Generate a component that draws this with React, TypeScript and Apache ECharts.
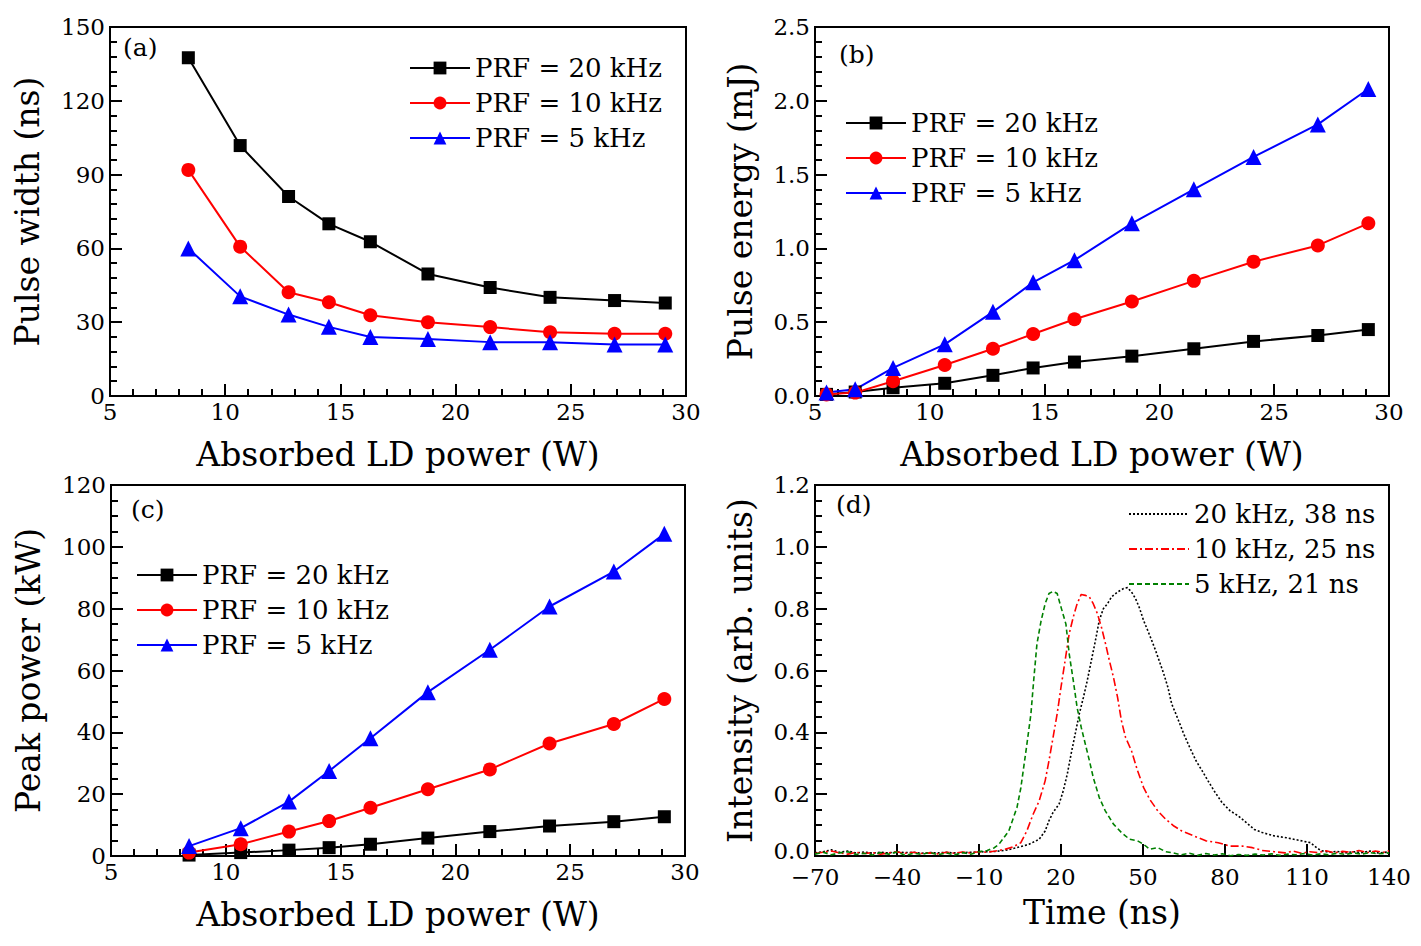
import React, { useEffect, useRef } from "react";
import * as echarts from "echarts";

// ---------- data ----------
const powerX = [8.4, 10.65, 12.75, 14.5, 16.3, 18.8, 21.5, 24.1, 26.9, 29.1];
const powerXb = [5.5, 6.75, 8.4, 10.65, 12.75, 14.5, 16.3, 18.8, 21.5, 24.1, 26.9, 29.1];

const widthPRF20 = [137.5, 101.8, 81.1, 70.0, 62.7, 49.6, 44.1, 40.1, 38.8, 37.8];
const widthPRF10 = [91.9, 60.7, 42.2, 38.1, 32.8, 30.0, 28.0, 25.9, 25.3, 25.3];
const widthPRF5 = [60.0, 40.5, 33.1, 28.1, 24.0, 23.2, 21.9, 21.9, 20.9, 20.9];

const energyPRF20 = [0.011, 0.027, 0.056, 0.086, 0.14, 0.19, 0.23, 0.27, 0.32, 0.37, 0.41, 0.45];
const energyPRF10 = [0.011, 0.023, 0.10, 0.21, 0.32, 0.42, 0.52, 0.64, 0.78, 0.91, 1.02, 1.17];
const energyPRF5 = [0.023, 0.045, 0.19, 0.35, 0.57, 0.77, 0.92, 1.17, 1.40, 1.62, 1.84, 2.08];

const peakPRF20 = [0.3, 1.1, 1.9, 2.7, 3.8, 5.8, 7.9, 9.7, 11.1, 12.7];
const peakPRF10 = [1.1, 3.8, 7.9, 11.3, 15.6, 21.6, 28.0, 36.4, 42.7, 50.8];
const peakPRF5 = [3.2, 9.0, 17.6, 27.5, 38.1, 53.0, 66.7, 80.7, 92.0, 104.2];

const prfNames = ["PRF = 20 kHz", "PRF = 10 kHz", "PRF = 5 kHz"];
const pulseNames = ["20 kHz, 38 ns", "10 kHz, 25 ns", "5 kHz, 21 ns"];

const pulse20kHz: [number, number][] = [
  [-70, 0.010], [-67, 0.014], [-64, 0.020], [-61, 0.012], [-58, 0.016], [-55, 0.010], [-52, 0.013],
  [-49, 0.009], [-46, 0.012], [-43, 0.010], [-40, 0.013], [-37, 0.011], [-34, 0.012], [-31, 0.009],
  [-28, 0.011], [-25, 0.010], [-22, 0.012], [-19, 0.010], [-16, 0.011], [-13, 0.012], [-10, 0.013],
  [-7, 0.014], [-4, 0.015], [-0.5, 0.018], [3.9, 0.027], [8.3, 0.038], [12, 0.054], [14.2, 0.081],
  [15.6, 0.114], [17.1, 0.141], [19.3, 0.168], [20.8, 0.21], [22.3, 0.265], [23.7, 0.33], [25.2, 0.395],
  [26.7, 0.46], [28.2, 0.513], [29.6, 0.567], [31.1, 0.632], [32.6, 0.697], [34, 0.762], [35.5, 0.80],
  [37, 0.816], [38.5, 0.838], [40.7, 0.854], [42.9, 0.865], [44.3, 0.868], [45.8, 0.854], [47.3, 0.832],
  [48.8, 0.80], [50.2, 0.762], [51.7, 0.73], [53.2, 0.697], [54.6, 0.665], [56.1, 0.627], [57.6, 0.589],
  [59.1, 0.546], [60.5, 0.492], [62, 0.46], [63.5, 0.427], [64.9, 0.395], [67.1, 0.351], [69.4, 0.308],
  [71.6, 0.276], [73.8, 0.243], [76, 0.211], [78.9, 0.173], [81.9, 0.146], [84.8, 0.13], [87.8, 0.108],
  [90.7, 0.086], [93.6, 0.076], [98, 0.065], [102.5, 0.059], [106.9, 0.051], [111.3, 0.043], [113.5, 0.027],
  [115, 0.018], [118, 0.012], [121, 0.015], [124, 0.010], [127, 0.014], [130, 0.011], [133, 0.016],
  [136, 0.010], [140, 0.013],
];

const pulse10kHz: [number, number][] = [
  [-70, 0.008], [-67, 0.012], [-64, 0.016], [-61, 0.010], [-58, 0.006], [-55, 0.012], [-52, 0.008],
  [-49, 0.011], [-46, 0.006], [-43, 0.010], [-40, 0.013], [-37, 0.009], [-34, 0.012], [-31, 0.008],
  [-28, 0.010], [-25, 0.007], [-22, 0.012], [-19, 0.009], [-16, 0.013], [-13, 0.010], [-10, 0.014],
  [-7, 0.012], [-4, 0.016], [-0.5, 0.022], [2.4, 0.029], [5.3, 0.043], [7.5, 0.081], [9.8, 0.135],
  [12, 0.178], [14.2, 0.243], [15.6, 0.308], [17.1, 0.384], [18.6, 0.46], [20, 0.546], [21.5, 0.632],
  [23, 0.719], [24.5, 0.773], [25.9, 0.816], [27.4, 0.846], [28.9, 0.843], [30.4, 0.838], [31.8, 0.816],
  [33.3, 0.784], [34.8, 0.74], [36.3, 0.686], [37.7, 0.632], [39.2, 0.578], [40.7, 0.513], [42.1, 0.438],
  [43.6, 0.384], [45.8, 0.34], [48, 0.276], [50.2, 0.222], [52.4, 0.184], [55.4, 0.146], [58.3, 0.119],
  [61.3, 0.097], [64.2, 0.081], [68.6, 0.065], [73, 0.049], [77.5, 0.043], [81.9, 0.032], [86.3, 0.032],
  [90, 0.027], [93.6, 0.018], [98, 0.014], [102, 0.010], [105, 0.016], [108, 0.009], [111, 0.014],
  [114, 0.011], [117, 0.017], [120, 0.010], [123, 0.015], [126, 0.012], [129, 0.018], [132, 0.011],
  [135, 0.016], [138, 0.012], [140, 0.017],
];

const pulse5kHz: [number, number][] = [
  [-70, 0.006], [-67, 0.012], [-64, 0.004], [-61, 0.010], [-58, 0.014], [-55, 0.005], [-52, 0.009],
  [-49, 0.003], [-46, 0.011], [-43, 0.006], [-40, 0.013], [-37, 0.002], [-34, 0.009], [-31, 0.005],
  [-28, 0.012], [-25, 0.004], [-22, 0.010], [-19, 0.003], [-16, 0.011], [-13, 0.006], [-10, 0.014],
  [-7, 0.018], [-4.5, 0.026], [-2.7, 0.038], [0.9, 0.081], [3.9, 0.157], [5.3, 0.22], [7.5, 0.36],
  [9, 0.46], [10, 0.567], [11.2, 0.686], [12.7, 0.76], [14.2, 0.816], [15.6, 0.849], [17.1, 0.856],
  [18.6, 0.849], [20, 0.805], [21.8, 0.75], [23, 0.654], [24.5, 0.567], [25.9, 0.48], [27.4, 0.416],
  [28.9, 0.362], [30.4, 0.308], [31.8, 0.254], [34, 0.189], [36.2, 0.146], [39.2, 0.103], [42.1, 0.076],
  [45.1, 0.054], [48, 0.049], [50.2, 0.038], [52.4, 0.022], [55.4, 0.027], [58.3, 0.014], [61, 0.010],
  [64, 0.004], [67, 0.009], [70, 0.002], [73, 0.008], [76, 0.003], [79, 0.007], [82, 0.001], [85, 0.005],
  [88, 0.002], [91, 0.006], [94, 0.003], [97, 0.007], [100, 0.002], [103, 0.006], [106, 0.004],
  [109, 0.008], [112, 0.003], [115, 0.007], [118, 0.004], [121, 0.009], [124, 0.005], [127, 0.010],
  [130, 0.006], [133, 0.011], [136, 0.007], [140, 0.010],
];

const timeTicks = [-70, -40, -10, 20, 50, 80, 110, 140];

// ---------- chart ----------
const FONT = "DejaVu Serif";
const BLACK = "#000000";
const RED = "#ff0000";
const BLUE = "#0000ff";
const GREEN = "#008000";

const fmtMinus = (v: number) => (v < 0 ? "\u2212" + Math.abs(v) : String(v));

function makeAxis(gridIndex: number, opts: any) {
  return {
    type: "value",
    gridIndex,
    nameLocation: "middle",
    axisLine: { show: true, onZero: false, lineStyle: { color: BLACK, width: 2 } },
    axisTick: { show: true, inside: true, length: 12, lineStyle: { color: BLACK, width: 2 } },
    minorTick: { show: true, splitNumber: opts.minor, length: 7, lineStyle: { color: BLACK, width: 2 } },
    splitLine: { show: false },
    minorSplitLine: { show: false },
    axisLabel: { color: BLACK, fontSize: 23, fontFamily: FONT, margin: 5, lineHeight: 18, ...(opts.label || {}) },
    nameTextStyle: { color: BLACK, fontSize: 33, fontFamily: FONT },
    ...opts.rest,
  };
}

function lineSeries(name: string, x: number[], y: number[], idx: number, symbol: string, size: number, color: string) {
  return {
    type: "line",
    name,
    xAxisIndex: idx,
    yAxisIndex: idx,
    data: x.map((v, i) => [v, y[i]]),
    symbol,
    symbolSize: size,
    itemStyle: { color },
    lineStyle: { color, width: 2 },
  };
}

function pulseSeries(name: string, data: [number, number][], color: string, dash: number[]) {
  return {
    type: "line",
    name,
    xAxisIndex: 3,
    yAxisIndex: 3,
    data,
    showSymbol: false,
    symbol: "none",
    itemStyle: { color },
    lineStyle: { color, width: 1.6, type: dash },
  };
}

function legendAt(left: number, top: number, data: string[], hideSymbol = false) {
  return {
    show: true,
    orient: "vertical",
    left,
    top,
    data,
    itemWidth: 60,
    itemHeight: 16,
    itemGap: 9,
    selectedMode: false,
    ...(hideSymbol ? { itemStyle: { opacity: 0 } } : {}),
    textStyle: { color: BLACK, fontSize: 26, fontFamily: FONT, lineHeight: 26 },
  };
}

const gridStyle = { show: true, borderColor: BLACK, borderWidth: 2, backgroundColor: "transparent" };

export default function App() {
  const ref = useRef<HTMLDivElement>(null);
  useEffect(() => {
    if (!ref.current) return;
    const chart = echarts.init(ref.current, null, { renderer: "svg" });
    const xName = "Absorbed LD power (W)";
    const option: any = {
      animation: false,
      backgroundColor: "#ffffff",
      textStyle: { fontFamily: FONT },
      grid: [
        { left: 110, top: 27, width: 576, height: 369, ...gridStyle },
        { left: 815, top: 27, width: 574, height: 369, ...gridStyle },
        { left: 111, top: 485, width: 574, height: 371, ...gridStyle },
        { left: 815, top: 485, width: 574, height: 371, ...gridStyle },
      ],
      xAxis: [
        makeAxis(0, { minor: 5, label: { margin: 7 }, rest: { min: 5, max: 30, interval: 5, name: xName, nameGap: 42 } }),
        makeAxis(1, { minor: 5, label: { margin: 7 }, rest: { min: 5, max: 30, interval: 5, name: xName, nameGap: 42 } }),
        makeAxis(2, { minor: 5, label: { margin: 7 }, rest: { min: 5, max: 30, interval: 5, name: xName, nameGap: 42 } }),
        makeAxis(3, {
          minor: 2,
          label: { formatter: fmtMinus, customValues: timeTicks, margin: 12 },
          rest: {
            min: -70, max: 140, interval: 30, name: "Time (ns)", nameGap: 40,
            axisTick: { show: true, inside: true, length: 12, customValues: timeTicks, lineStyle: { color: BLACK, width: 2 } },
            minorTick: { show: false },
          },
        }),
      ],
      yAxis: [
        makeAxis(0, { minor: 5, rest: { min: 0, max: 150, interval: 30, name: "Pulse width (ns)", nameGap: 66 } }),
        makeAxis(1, {
          minor: 5,
          label: { formatter: (v: number) => v.toFixed(1) },
          rest: { min: 0, max: 2.5, interval: 0.5, name: "Pulse energy (mJ)", nameGap: 58 },
        }),
        makeAxis(2, { minor: 4, rest: { min: 0, max: 120, interval: 20, name: "Peak power (kW)", nameGap: 66 } }),
        makeAxis(3, {
          minor: 4,
          label: {
            formatter: (v: number) => (v === 0 ? "{z|0.0}" : v.toFixed(1)),
            rich: { z: { fontSize: 23, fontFamily: FONT, color: BLACK, padding: [0, 0, 10, 0] } },
          },
          rest: { min: 0, max: 1.2, interval: 0.2, name: "Intensity (arb. units)", nameGap: 58 },
        }),
      ],
      legend: [
        legendAt(404, 50, prfNames),
        legendAt(840, 105, prfNames),
        legendAt(131, 557, prfNames),
        legendAt(1123, 496, pulseNames, true),
      ],
      graphic: [
        { type: "text", left: 123, top: 35, style: { text: "(a)", fontSize: 25, fontFamily: FONT, fill: BLACK } },
        { type: "text", left: 839, top: 42, style: { text: "(b)", fontSize: 25, fontFamily: FONT, fill: BLACK } },
        { type: "text", left: 131, top: 497, style: { text: "(c)", fontSize: 25, fontFamily: FONT, fill: BLACK } },
        { type: "text", left: 836, top: 492, style: { text: "(d)", fontSize: 25, fontFamily: FONT, fill: BLACK } },
      ],
      series: [
        lineSeries(prfNames[0], powerX, widthPRF20, 0, "rect", 13, BLACK),
        lineSeries(prfNames[1], powerX, widthPRF10, 0, "circle", 14, RED),
        lineSeries(prfNames[2], powerX, widthPRF5, 0, "triangle", 16, BLUE),
        lineSeries(prfNames[0], powerXb, energyPRF20, 1, "rect", 13, BLACK),
        lineSeries(prfNames[1], powerXb, energyPRF10, 1, "circle", 14, RED),
        lineSeries(prfNames[2], powerXb, energyPRF5, 1, "triangle", 16, BLUE),
        lineSeries(prfNames[0], powerX, peakPRF20, 2, "rect", 13, BLACK),
        lineSeries(prfNames[1], powerX, peakPRF10, 2, "circle", 14, RED),
        lineSeries(prfNames[2], powerX, peakPRF5, 2, "triangle", 16, BLUE),
        pulseSeries(pulseNames[0], pulse20kHz, BLACK, [2, 2]),
        pulseSeries(pulseNames[1], pulse10kHz, RED, [8, 3, 2, 3]),
        pulseSeries(pulseNames[2], pulse5kHz, GREEN, [5, 3]),
      ],
    };
    chart.setOption(option);
    return () => chart.dispose();
  }, []);
  return (
    <div
      ref={ref}
      style={{ position: "fixed", left: 0, top: 0, width: 1421, height: 946, background: "#fff" }}
    />
  );
}
